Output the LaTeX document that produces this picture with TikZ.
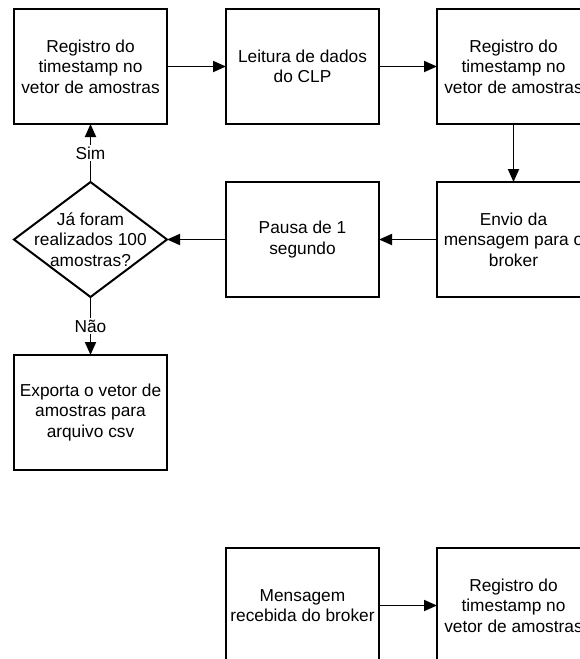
\documentclass[tikz,border=0pt]{standalone}
\usepackage{fontspec}
\setmainfont{Liberation Sans}
\usetikzlibrary{shapes.geometric, arrows.meta, positioning}

\begin{document}
\begin{tikzpicture}[x=1pt,y=1pt,font=\fontsize{17.3}{20.5}\selectfont]
    \tikzset{
        proc node/.style={rectangle, minimum width=153pt, minimum height=115pt, draw, line width=2pt, align=center, inner sep=0pt, outer sep=0pt, fill=white},
        dec node/.style={diamond, aspect=1.33, minimum width=153pt, minimum height=115pt, draw, line width=2pt, inner sep=0pt, outer sep=0pt, fill=white},
        flow/.style={line width=1.8pt, -{Triangle[length=13pt,width=11pt]}},
        cond/.style={fill=white, inner sep=1.5pt}
      }
\useasboundingbox (0,0) rectangle (580,-659);
% first loop
\node[proc node] (reg1) at (90.5,-66.5) {Registro do\\timestamp no\\vetor de amostras};
\node[proc node, right=59pt of reg1] (leitura) {Leitura de dados\\do CLP};
\node[proc node, right=58pt of leitura] (reg2) {Registro do\\timestamp no\\vetor de amostras};
\node[proc node, below=58pt of reg2] (envio) {Envio da\\mensagem para o\\broker};
\node[proc node, left=58pt of envio] (pausa) {Pausa de 1\\segundo};
\node[dec node, left=59pt of pausa] (teste) {};
\node[align=center] (testetxt) at (teste) {Já foram\\realizados 100\\amostras?};
\node[proc node, below=58pt of teste] (exporta) {Exporta o vetor de\\amostras para\\arquivo csv};
% receiving side
\node[proc node] (msg) at (302.5,-605.5) {Mensagem\\recebida do broker};
\node[proc node, right=58pt of msg] (reg3) {Registro do\\timestamp no\\vetor de amostras};

\draw[flow] (reg1) -- (leitura);
\draw[flow] (leitura) -- (reg2);
\draw[flow] (reg2) -- (envio);
\draw[flow] (envio) -- (pausa);
\draw[flow] (pausa) -- (teste);
\draw[flow] (teste) -- node[cond]{Sim} (reg1);
\draw[flow] (teste) -- node[cond]{Não} (exporta);
\draw[flow] (msg) -- (reg3);
\end{tikzpicture}
\end{document}
